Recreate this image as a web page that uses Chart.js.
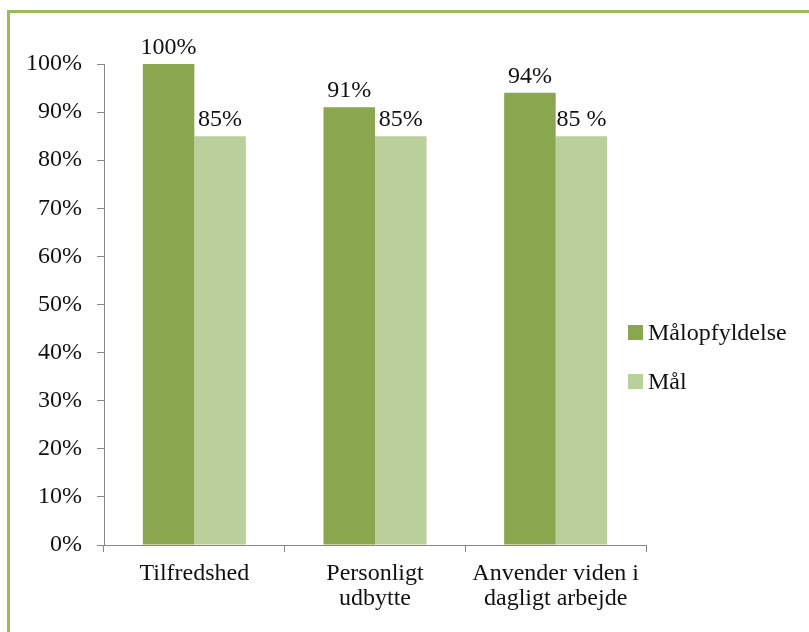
<!DOCTYPE html>
<html>
<head>
<meta charset="utf-8">
<script src="https://cdn.jsdelivr.net/npm/chart.js@4"></script>
<style>
 html,body{margin:0;padding:0;background:#fff;}
 #wrap{width:809px;height:632px;}
</style>
</head>
<body>
<div id="wrap"><canvas id="maal" width="809" height="632"></canvas></div>
<script>
// data
var kategorier=[["Tilfredshed"],["Personligt","udbytte"],["Anvender viden i","dagligt arbejde"]];
var maalopfyldelse=[100,91,94];
var maal=[85,85,85];
var tekstOpfyldelse=["100%","91%","94%"];
var tekstMaal=["85%","85%","85 %"];

var skrift="'Liberation Serif','Times New Roman',serif";
var moerk="#8aa64e", lys="#bacf99", akse="#878787";

// green frame (only left + top visible), value labels and the legend
var pynt={
 id:"pynt",
 beforeDraw:function(c){
  var ctx=c.ctx;
  ctx.save();
  ctx.strokeStyle="#9bbb59";
  ctx.lineWidth=3;
  ctx.beginPath();
  ctx.moveTo(8.5,632);ctx.lineTo(8.5,11.5);ctx.lineTo(809,11.5);
  ctx.stroke();
  ctx.restore();
 },
 afterDatasetsDraw:function(c){
  var ctx=c.ctx;
  ctx.save();
  ctx.font="24px "+skrift;
  ctx.fillStyle="#111";
  ctx.textAlign="center";
  ctx.textBaseline="alphabetic";
  var tekster=[tekstOpfyldelse,tekstMaal];
  c.data.datasets.forEach(function(ds,i){
   c.getDatasetMeta(i).data.forEach(function(bar,j){
    ctx.fillText(tekster[i][j],bar.x,bar.y-10);
   });
  });
  // legend
  var a=c.chartArea;
  var midt=(a.top+a.bottom)/2;
  ctx.textAlign="left";
  ctx.textBaseline="middle";
  c.data.datasets.forEach(function(ds,i){
   var y=midt+28+i*49;
   ctx.fillStyle=ds.backgroundColor;
   ctx.fillRect(a.right-18,y-7.5,15,15);
   ctx.fillStyle="#111";
   ctx.fillText(ds.label,a.right+2,y+1);
  });
  ctx.restore();
 }
};

new Chart(document.getElementById("maal"),{
 type:"bar",
 data:{
  labels:kategorier,
  datasets:[
   {label:"Målopfyldelse",data:maalopfyldelse,backgroundColor:moerk},
   {label:"Mål",data:maal,backgroundColor:lys}
  ]
 },
 options:{
  responsive:false,
  animation:false,
  layout:{padding:{left:0,top:64,right:163,bottom:0}},
  datasets:{bar:{categoryPercentage:0.57,barPercentage:1}},
  plugins:{legend:{display:false},tooltip:{enabled:false}},
  scales:{
   x:{
    afterFit:function(s){s.height=87;},
    grid:{drawOnChartArea:false,drawTicks:true,tickLength:7,color:akse,offset:true},
    border:{color:akse,width:1},
    ticks:{color:"#111",font:{family:skrift,size:24,lineHeight:1.05},padding:9}
   },
   y:{
    min:0,max:100,
    afterFit:function(s){s.width=104;},
    grid:{drawOnChartArea:false,drawTicks:true,tickLength:7,color:akse},
    border:{color:akse,width:1},
    ticks:{stepSize:10,color:"#111",padding:15,font:{family:skrift,size:24},
     callback:function(v){return v+"%";}}
   }
  }
 },
 plugins:[pynt]
});
</script>
</body>
</html>
